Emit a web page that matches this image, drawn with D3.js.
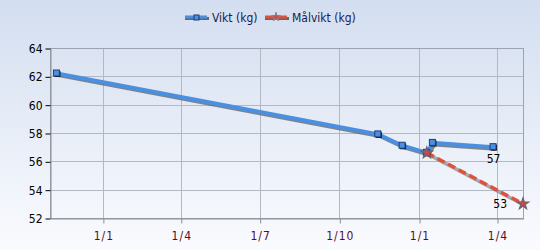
<!DOCTYPE html>
<html>
<head>
<meta charset="utf-8">
<style>
    body { margin: 0; }
    svg { display: block; font-family: 'DejaVu Sans Condensed', 'Liberation Sans', sans-serif; }
</style>
</head>
<body>
<svg width="540" height="250"></svg>
<script src="https://d3js.org/d3.v7.min.js"></script>
<script>
    //------------------------DATA------------------------//
    let viktDates = ["2012-11-09", "2013-11-15", "2013-12-13", "2014-01-10", "2014-01-17", "2014-03-28"];
    let viktValues = [62.2, 57.9, 57.1, 56.6, 57.3, 57.0];
    let malDates = ["2014-01-10", "2014-05-01"];
    let malValues = [56.6, 53.0];
    let yTicks = [52, 54, 56, 58, 60, 62, 64];
    let xTicks = ["2013-01-01", "2013-04-01", "2013-07-01", "2013-10-01", "2014-01-01", "2014-04-01"];
    let seriesNames = ["Vikt (kg)", "Målvikt (kg)"];

    let parse = d3.timeParse("%Y-%m-%d");
    let vikt = viktDates.map((d, i) => ({date: parse(d), value: viktValues[i]}));
    let mal = malDates.map((d, i) => ({date: parse(d), value: malValues[i]}));
    let fontFam = "'DejaVu Sans Condensed', 'Liberation Sans', sans-serif";

    //------------------------SETUP------------------------//
    let width = 540, height = 250;
    let margin = {top: 48, right: 17, bottom: 32, left: 50};
    let svg = d3.select("svg");

    let defs = svg.append("defs");
    let bg = defs.append("linearGradient").attr("id", "bg").attr("x1", 0).attr("y1", 0).attr("x2", 0).attr("y2", 1);
    bg.append("stop").attr("offset", "0%").attr("stop-color", "#d3def0");
    bg.append("stop").attr("offset", "100%").attr("stop-color", "#fafbfe");

    svg.append("rect").attr("width", width).attr("height", height).attr("fill", "url(#bg)");

    let x = d3.scaleTime()
        .domain([parse("2012-11-01"), parse("2014-05-01")])
        .range([margin.left, width - margin.right]);
    let y = d3.scaleLinear()
        .domain([52, 64])
        .range([height - margin.bottom, margin.top]);

    //------------------------GRID------------------------//
    let grid = svg.append("g");
    grid.selectAll(".hg").data(yTicks).join("line")
        .attr("x1", margin.left).attr("x2", width - margin.right)
        .attr("y1", d => Math.round(y(d)) + 0.5).attr("y2", d => Math.round(y(d)) + 0.5)
        .attr("stroke", "#b4b8c4").attr("stroke-width", 1);
    grid.selectAll(".vg").data(xTicks.map(parse)).join("line")
        .attr("x1", d => Math.round(x(d)) + 0.5).attr("x2", d => Math.round(x(d)) + 0.5)
        .attr("y1", margin.top).attr("y2", height - margin.bottom)
        .attr("stroke", "#b4b8c4").attr("stroke-width", 1);

    // border
    svg.append("rect")
        .attr("x", margin.left + 0.5).attr("y", margin.top + 0.5)
        .attr("width", width - margin.left - margin.right)
        .attr("height", height - margin.top - margin.bottom)
        .attr("fill", "none").attr("stroke", "#9fa3ad");

    //------------------------AXES------------------------//
    let yAxis = svg.append("g")
        .attr("transform", `translate(${margin.left + 0.5},0.5)`)
        .call(d3.axisLeft(y).tickValues(yTicks).tickSize(5).tickSizeOuter(0).tickFormat(d3.format("d")));
    yAxis.select(".domain").attr("stroke", "#8a8e98");
    yAxis.selectAll(".tick line").attr("stroke", "#000");
    yAxis.selectAll("text").attr("fill", "#000").attr("font-size", 12).attr("font-family", fontFam);

    let xAxis = svg.append("g")
        .attr("transform", `translate(0.5,${height - margin.bottom + 0.5})`)
        .call(d3.axisBottom(x).tickValues(xTicks.map(parse)).tickSize(5).tickSizeOuter(0)
            .tickFormat(d => d.getDate() + "/" + (d.getMonth() + 1)));
    xAxis.select(".domain").attr("stroke", "#8a8e98");
    xAxis.selectAll(".tick line").attr("stroke", "#8a8e98");
    xAxis.selectAll("text").attr("fill", "#5a0a30").attr("font-size", 12).attr("dy", "1.1em")
        .attr("letter-spacing", "1px").attr("font-family", fontFam);

    //------------------------LINES------------------------//
    let line = d3.line().x(d => x(d.date)).y(d => y(d.value));
    let plot = svg.append("g");

    // shadows
    plot.append("path").datum(vikt).attr("d", line)
        .attr("transform", "translate(1.5,1.5)")
        .attr("fill", "none").attr("stroke", "#555").attr("stroke-opacity", 0.7).attr("stroke-width", 4);
    plot.append("path").datum(mal).attr("d", line)
        .attr("transform", "translate(1.5,1.5)")
        .attr("fill", "none").attr("stroke", "#777").attr("stroke-opacity", 0.6).attr("stroke-width", 3.5);

    plot.append("path").datum(vikt).attr("d", line)
        .attr("fill", "none").attr("stroke", "#4a8fe0").attr("stroke-width", 4);
    plot.append("path").datum(mal).attr("d", line)
        .attr("fill", "none").attr("stroke", "#e0503a").attr("stroke-width", 3.5)
        .attr("stroke-dasharray", "8,4");

    // markers
    plot.selectAll(".vs").data(vikt).join("rect")
        .attr("x", d => x(d.date) - 2.5).attr("y", d => y(d.value) - 2.5)
        .attr("width", 6).attr("height", 6).attr("fill", "#111");
    plot.selectAll(".vm").data(vikt).join("rect")
        .attr("x", d => x(d.date) - 3.5).attr("y", d => y(d.value) - 3.5)
        .attr("width", 6).attr("height", 6)
        .attr("fill", "#4a8fe0").attr("stroke", "#1d3c78").attr("stroke-width", 1);

    let star = d3.symbol().type(d3.symbolStar).size(40);
    plot.selectAll(".ms").data(mal).join("path")
        .attr("d", star)
        .attr("transform", d => `translate(${x(d.date)},${y(d.value)})`)
        .attr("fill", "#d8453a").attr("stroke", "#6a6070").attr("stroke-width", 1.2);

    // value labels on last points
    let lastV = vikt[vikt.length - 1];
    plot.append("text")
        .attr("x", x(lastV.date)).attr("y", y(lastV.value) + 16)
        .attr("text-anchor", "middle").attr("font-size", 12).attr("fill", "#000")
        .text(d3.format("d")(lastV.value));
    let lastM = mal[mal.length - 1];
    plot.append("text")
        .attr("x", x(lastM.date) - 16).attr("y", y(lastM.value) + 4)
        .attr("text-anchor", "end").attr("font-size", 12).attr("fill", "#000")
        .text(d3.format("d")(lastM.value));

    //------------------------LEGEND------------------------//
    let legend = svg.append("g").attr("font-size", 12);
    let legendX = [185, 265];
    let legendColors = ["#4a8fe0", "#e0503a"];
    seriesNames.forEach((name, i) => {
        let g = legend.append("g").attr("transform", `translate(${legendX[i]},17)`);
        g.append("line").attr("x1", 0).attr("x2", 24).attr("y1", 1.5).attr("y2", 1.5)
            .attr("stroke", "#666").attr("stroke-width", 3);
        g.append("line").attr("x1", 0).attr("x2", 22).attr("y1", 0).attr("y2", 0)
            .attr("stroke", legendColors[i]).attr("stroke-width", 3);
        if (i === 0) {
            g.append("rect").attr("x", 9).attr("y", -2).attr("width", 5).attr("height", 5)
                .attr("fill", "#4a8fe0").attr("stroke", "#1d3c78");
        } else {
            g.append("path").attr("d", d3.symbol().type(d3.symbolStar).size(25))
                .attr("transform", "translate(11,0)").attr("fill", "#d8453a").attr("stroke", "#888");
        }
        g.append("text").attr("x", 27).attr("y", 4.5).attr("fill", "#1a1a50").text(name);
    });
</script>
</body>
</html>
